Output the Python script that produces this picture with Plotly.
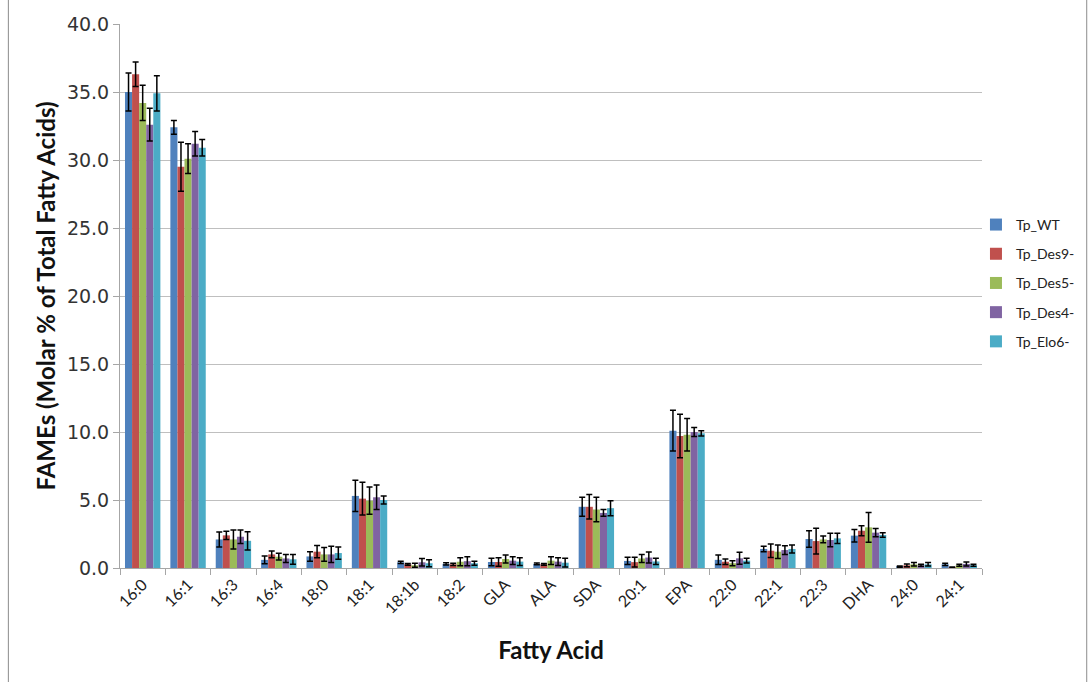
import plotly.graph_objects as go

# Fatty acid categories
fatty_acids = ["16:0", "16:1", "16:3", "16:4", "18:0", "18:1", "18:1b", "18:2", "GLA", "ALA",
               "SDA", "20:1", "EPA", "22:0", "22:1", "22:3", "DHA", "24:0", "24:1"]

# Mean molar % per strain
wt    = [35.0, 32.4, 2.1, 0.6, 0.85, 5.3, 0.42, 0.30, 0.44, 0.30, 4.5, 0.52, 10.1, 0.60, 1.40, 2.13, 2.38, 0.10, 0.27]
des9  = [36.3, 29.5, 2.4, 1.0, 1.20, 5.1, 0.27, 0.27, 0.44, 0.27, 4.5, 0.43, 9.7, 0.46, 1.27, 1.98, 2.74, 0.20, 0.05]
des5  = [34.2, 30.1, 2.1, 0.83, 1.00, 4.95, 0.20, 0.46, 0.66, 0.54, 4.3, 0.70, 9.8, 0.35, 1.20, 2.10, 2.99, 0.27, 0.20]
des4  = [32.6, 31.2, 2.3, 0.7, 1.00, 5.2, 0.42, 0.50, 0.54, 0.47, 4.05, 0.77, 10.0, 0.71, 1.32, 2.06, 2.60, 0.20, 0.30]
elo6  = [34.9, 30.9, 2.0, 0.64, 1.10, 5.0, 0.35, 0.35, 0.47, 0.39, 4.4, 0.48, 9.9, 0.54, 1.40, 2.18, 2.43, 0.27, 0.20]

# Standard deviations per strain
wt_err   = [1.4, 0.5, 0.55, 0.28, 0.35, 1.15, 0.08, 0.08, 0.27, 0.06, 0.7, 0.27, 1.5, 0.35, 0.20, 0.61, 0.46, 0.05, 0.08]
des9_err = [0.9, 1.8, 0.30, 0.25, 0.45, 1.20, 0.07, 0.08, 0.32, 0.06, 0.9, 0.36, 1.6, 0.20, 0.49, 0.95, 0.36, 0.10, 0.03]
des5_err = [1.3, 1.1, 0.70, 0.25, 0.50, 1.00, 0.15, 0.30, 0.29, 0.29, 0.9, 0.30, 1.2, 0.19, 0.50, 0.25, 1.10, 0.13, 0.08]
des4_err = [1.2, 0.9, 0.50, 0.30, 0.60, 0.90, 0.28, 0.33, 0.29, 0.29, 0.25, 0.40, 0.33, 0.44, 0.32, 0.49, 0.30, 0.07, 0.15]
elo6_err = [1.3, 0.6, 0.67, 0.36, 0.45, 0.30, 0.25, 0.15, 0.29, 0.32, 0.55, 0.23, 0.2, 0.17, 0.30, 0.37, 0.17, 0.13, 0.08]

series_names = ["Tp_WT", "Tp_Des9-", "Tp_Des5-", "Tp_Des4-", "Tp_Elo6-"]
series_values = [wt, des9, des5, des4, elo6]
series_errors = [wt_err, des9_err, des5_err, des4_err, elo6_err]
colors = ["#4F81BD", "#C0504D", "#9BBB59", "#8064A2", "#4BACC6"]

y_ticks = [0, 5, 10, 15, 20, 25, 30, 35, 40]

FONT = "Lato, 'Open Sans', sans-serif"
NUM_FONT = "'DejaVu Sans', sans-serif"

fig = go.Figure()
for name, vals, errs, col in zip(series_names, series_values, series_errors, colors):
    fig.add_trace(go.Bar(
        name=name, x=fatty_acids, y=vals,
        marker=dict(color=col, line=dict(width=0)),
        error_y=dict(type="data", array=errs, visible=True,
                     color="black", thickness=1.5, width=3),
        legendgroup=name,
    ))

fig.update_layout(
    barmode="group",
    bargap=0.22,
    bargroupgap=0,
    width=1092, height=682,
    margin=dict(l=120, r=107, t=24, b=114),
    paper_bgcolor="white",
    plot_bgcolor="white",
    font=dict(family=FONT, color="#222"),
    showlegend=True,
    legend=dict(x=0.993, y=0.66, xanchor="left", yanchor="top",
                font=dict(size=14, family=FONT, color="#222"),
                tracegroupgap=8, itemwidth=30,
                bgcolor="rgba(0,0,0,0)"),
    xaxis=dict(
        title=dict(text="<b>Fatty Acid</b>", font=dict(size=24, family=FONT, color="#111"), standoff=26),
        tickangle=-45, tickfont=dict(size=16, family=FONT, color="#222"),
        showline=True, linecolor="#a6a6a6", linewidth=1,
        ticks="outside", ticklen=6, tickcolor="#a6a6a6",
        tickson="boundaries",
        showgrid=False,
    ),
    yaxis=dict(
        title=dict(text="<b>FAMEs (Molar % of Total Fatty Acids)</b>", font=dict(size=24, family=FONT, color="#111"), standoff=4),
        range=[0, 40], tickvals=y_ticks, tickformat=".1f",
        tickfont=dict(size=19, family=NUM_FONT, color="#333"),
        showline=True, linecolor="#a6a6a6", linewidth=1,
        ticks="outside", ticklen=6, tickcolor="#a6a6a6",
        showgrid=True, gridcolor="#bfbfbf", gridwidth=1,
        zeroline=False,
    ),
    shapes=[dict(type="rect", xref="paper", yref="paper",
                 x0=-0.1295, x1=1.1215, y0=-0.2115, y1=1.05,
                 line=dict(color="#8c8c8c", width=1), fillcolor="rgba(0,0,0,0)", layer="below")],
)

fig.write_html("out.html")
